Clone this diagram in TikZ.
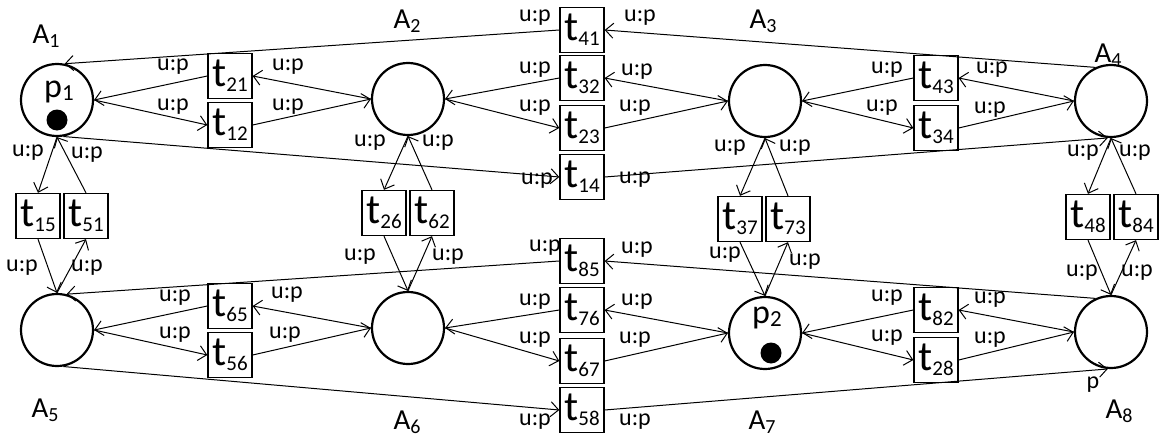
\documentclass[tikz,border=0pt]{standalone}
\usepackage{fontspec}
\setmainfont{Carlito}
\usetikzlibrary{arrows.meta}

\newcommand{\tname}[1]{t\raisebox{-0.12em}{\fontsize{21}{21}\selectfont #1}}
\newcommand{\aname}[1]{A\raisebox{-0.15em}{\fontsize{20}{20}\selectfont #1}}
\newcommand{\pname}[1]{p\raisebox{-0.08em}{\fontsize{23}{23}\selectfont #1}}

\begin{document}
\begin{tikzpicture}[x=1pt, y=-1pt,
    place/.style={circle, draw, line width=2.2pt, minimum size=72pt, inner sep=0pt},
    trans/.style={rectangle, draw, line width=1.3pt, minimum width=44pt,
        minimum height=45pt, inner sep=0pt, font=\fontsize{42}{42}\selectfont},
    arc/.style={-{Straight Barb[length=8pt, width=15pt]}, line width=1pt},
    lab/.style={font=\fontsize{24}{24}\selectfont, inner sep=0pt},
    alab/.style={font=\fontsize{29}{29}\selectfont, inner sep=0pt},
    token/.style={circle, fill=black, minimum size=21pt, inner sep=0pt}
]
\useasboundingbox (0,0) rectangle (1163,439);

% places
\node[place] (A1) at (57,100) {};
\node[place] (A2) at (408,99) {};
\node[place] (A3) at (765,101) {};
\node[place] (A4) at (1111,101) {};
\node[place] (A5) at (57,330) {};
\node[place] (A6) at (408,328) {};
\node[place] (A7) at (765,333) {};
\node[place] (A8) at (1111,332) {};

\node[alab] (nA1) at (46,36) {\aname{1}};
\node[alab] (nA2) at (407,21) {\aname{2}};
\node[alab] (nA3) at (763,21) {\aname{3}};
\node[alab] (nA4) at (1108,55) {\aname{4}};
\node[alab] (nA5) at (45,410) {\aname{5}};
\node[alab] (nA6) at (407,422) {\aname{6}};
\node[alab] (nA7) at (762,422) {\aname{7}};
\node[alab] (nA8) at (1119,411) {\aname{8}};

% tokens
\node[font=\fontsize{34}{34}\selectfont, inner sep=0pt] (p1) at (59,92) {\pname{1}};
\node[token] (k1) at (57,120) {};
\node[font=\fontsize{34}{34}\selectfont, inner sep=0pt] (p2) at (767,318) {\pname{2}};
\node[token] (k2) at (771,353) {};

% transitions
\node[trans] (t41) at (582,30) {\tname{41}};
\node[trans] (t21) at (230,76) {\tname{21}};
\node[trans] (t12) at (230,125) {\tname{12}};
\node[trans] (t32) at (582,78) {\tname{32}};
\node[trans] (t23) at (582,128) {\tname{23}};
\node[trans] (t14) at (582,177) {\tname{14}};
\node[trans] (t43) at (936,78) {\tname{43}};
\node[trans] (t34) at (936,128) {\tname{34}};
\node[trans] (t15) at (38,216) {\tname{15}};
\node[trans] (t51) at (86,216) {\tname{51}};
\node[trans] (t26) at (384,213) {\tname{26}};
\node[trans] (t62) at (432,213) {\tname{62}};
\node[trans] (t37) at (740,219) {\tname{37}};
\node[trans] (t73) at (788,219) {\tname{73}};
\node[trans] (t48) at (1088,217) {\tname{48}};
\node[trans] (t84) at (1136,217) {\tname{84}};
\node[trans] (t85) at (582,261) {\tname{85}};
\node[trans] (t65) at (230,306) {\tname{65}};
\node[trans] (t56) at (230,355) {\tname{56}};
\node[trans] (t76) at (582,310) {\tname{76}};
\node[trans] (t67) at (582,361) {\tname{67}};
\node[trans] (t58) at (582,410) {\tname{58}};
\node[trans] (t82) at (936,310) {\tname{82}};
\node[trans] (t28) at (936,360) {\tname{28}};

% long arcs
\draw[arc] (A4.115) -- (t41.east);
\draw[arc] (t41.west) -- (A1.78);
\draw[arc] (A1.280) -- (t14.west);
\draw[arc] (t14.east) -- (A4.265);
\draw[arc] (A8.115) -- (t85.east);
\draw[arc] (t85.west) -- (A5.75);
\draw[arc] (A5.280) -- (t58.west);
\draw[arc] (t58.east) -- (A8.265);

% horizontal pairs
\draw[arc] (A2.west) -- (t21.east);
\draw[arc] (t21.west) -- (A1.east);
\draw[arc] (A1.east) -- (t12.west);
\draw[arc] (t12.east) -- (A2.west);
\draw[arc] (A3.west) -- (t32.east);
\draw[arc] (t32.west) -- (A2.east);
\draw[arc] (A2.east) -- (t23.west);
\draw[arc] (t23.east) -- (A3.west);
\draw[arc] (A4.west) -- (t43.east);
\draw[arc] (t43.west) -- (A3.east);
\draw[arc] (A3.east) -- (t34.west);
\draw[arc] (t34.east) -- (A4.west);
\draw[arc] (A6.west) -- (t65.east);
\draw[arc] (t65.west) -- (A5.east);
\draw[arc] (A5.east) -- (t56.west);
\draw[arc] (t56.east) -- (A6.west);
\draw[arc] (A7.west) -- (t76.east);
\draw[arc] (t76.west) -- (A6.east);
\draw[arc] (A6.east) -- (t67.west);
\draw[arc] (t67.east) -- (A7.west);
\draw[arc] (A8.west) -- (t82.east);
\draw[arc] (t82.west) -- (A7.east);
\draw[arc] (A7.east) -- (t28.west);
\draw[arc] (t28.east) -- (A8.west);

% vertical pairs
\foreach \u/\d/\a/\b in {A1/A5/15/51, A2/A6/26/62, A3/A7/37/73, A4/A8/48/84} {
    \draw[arc] (\u.south) -- (t\a.north);
    \draw[arc] (t\b.north) -- (\u.south);
    \draw[arc] (t\a.south) -- (\d.north);
    \draw[arc] (\d.north) -- (t\b.south);
}

% arc inscriptions
\foreach \x/\y [count=\i] in {535/18, 640/18, 173/67, 288/67, 173/107, 288/107,
    535/70, 637/72, 535/108, 635/108, 537/181, 635/180, 887/70, 992/70,
    882/108, 990/110, 28/153, 87/155, 22/268, 87/268, 370/143, 438/143,
    360/257, 448/257, 730/148, 795/148, 725/255, 805/262, 1083/153, 1135/153,
    1082/273, 1137/273, 545/248, 637/250, 175/298, 287/295, 175/335, 285/335,
    535/302, 637/302, 535/340, 635/340, 887/298, 990/300, 887/338, 990/340,
    535/422, 635/422}
    \node[lab] (up\i) at (\x,\y) {u:p};
\node[lab] (p8) at (1093,385) {p};
\end{tikzpicture}
\end{document}
